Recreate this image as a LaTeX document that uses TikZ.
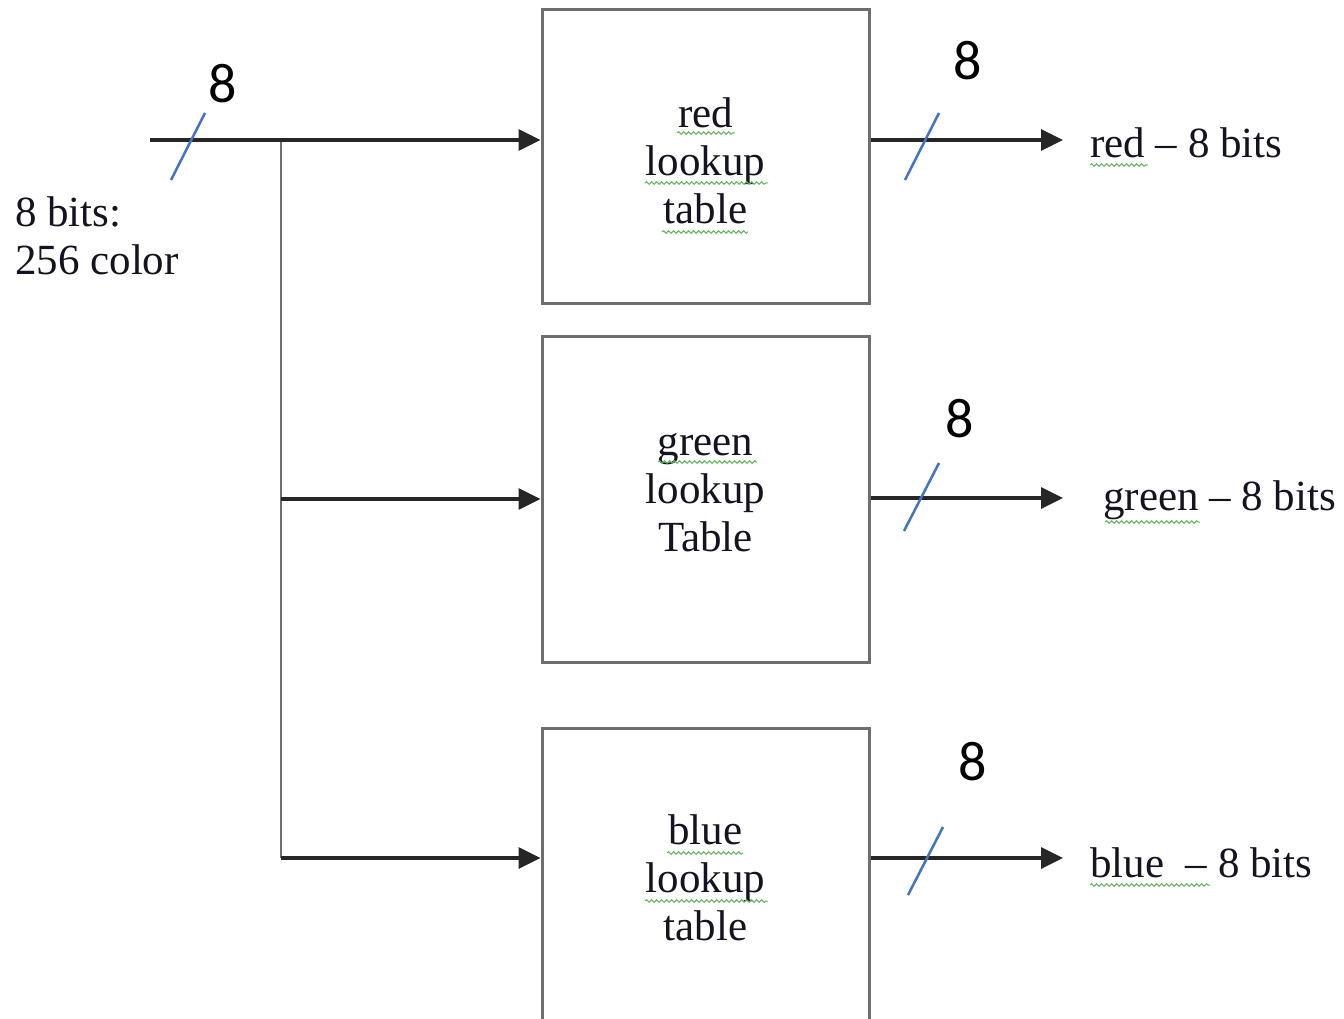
\documentclass[tikz,border=0pt]{standalone}
\usepackage{fontspec}
\setmainfont{Liberation Serif}
\newfontfamily\labelsans{Carlito}
\usetikzlibrary{arrows.meta,decorations.pathmorphing}

\definecolor{boxgray}{HTML}{6E6E6E}
\definecolor{wire}{HTML}{262626}
\definecolor{trunkgray}{HTML}{707070}
\definecolor{slashblue}{HTML}{4472C4}
\definecolor{spellgreen}{HTML}{5DB85A}
\definecolor{inktext}{HTML}{141420}

\begin{document}
\begin{tikzpicture}[x=1pt,y=-1pt,
  lut/.style={draw=boxgray, line width=3pt, minimum width=327pt, inner sep=0pt},
  boxtext/.style={font=\fontsize{43}{48}\selectfont, align=center, inner sep=0pt, text=inktext},
  sidetext/.style={font=\fontsize{43}{48}\selectfont, anchor=base west, inner sep=0pt, text=inktext},
  bus/.style={draw=wire, line width=3.5pt, -{Triangle[length=22pt,width=21pt]}},
  trunk/.style={draw=trunkgray, line width=2.5pt},
  buswidth/.style={font=\labelsans\fontsize{56}{60}\selectfont, anchor=base, inner sep=0pt},
  slash/.style={draw=slashblue, line width=2.5pt},
  squiggle/.style={draw=spellgreen, line width=1pt, decorate,
    decoration={snake, amplitude=1.3pt, segment length=5pt}}
]
% page frame
\clip (0,0) rectangle (1344,1019);
\fill[white] (0,0) rectangle (1344,1019);

% lookup tables
\node[lut, minimum height=293pt] (red)   at (705.5,156.5) {};
\node[lut, minimum height=326pt] (green) at (705.5,499) {};
\node[lut, minimum height=312pt] (blue)  at (705.5,884) {};

\node[boxtext] (redtxt)   at (705.5,161) {red\\lookup\\table};
\node[boxtext] (greentxt) at (705.5,493) {green\\lookup\\Table};
\node[boxtext] (bluetxt)  at (705.5,878) {blue\\lookup\\table};

% input bus and fan-out
\coordinate (in) at (150,140);
\coordinate (j)  at (281,140);
\coordinate (gj) at (281,499);
\coordinate (tb) at (281,858);

\draw[trunk] (j) -- (tb);
\draw[bus] (in) -- (in -| red.west);
\draw[bus] (gj) -- (gj -| green.west);
\draw[bus] (tb) -- (tb -| blue.west);

% outputs
\coordinate (rend) at (1063,140);
\coordinate (gend) at (1063,498);
\coordinate (bend) at (1063,858);
\draw[bus] (rend -| red.east) -- (rend);
\draw[bus] (gend -| green.east) -- (gend);
\draw[bus] (bend -| blue.east) -- (bend);

% bus width marks
\draw[slash] (205,113) -- (171,180);
\draw[slash] (939,113) -- (905,180);
\draw[slash] (939,463) -- (904,531);
\draw[slash] (943,827) -- (908,895);

\node[buswidth] (w0) at (223,103) {8};
\node[buswidth] (w1) at (968,80)  {8};
\node[buswidth] (w2) at (960,437) {8};
\node[buswidth] (w3) at (973,780) {8};

% labels
\node[sidetext, anchor=north west, align=left] (inlabel) at (15,196) {8 bits:\\256 color};
\node[sidetext] (redout)   at (1090,158) {red – 8 bits};
\node[sidetext] (greenout) at (1103,510) {green – 8 bits};
\node[sidetext] (blueout)  at (1090,877) {blue\ \ – 8 bits};

% spelling marks under words
\draw[squiggle] (677,133) -- (735,133);
\draw[squiggle] (645,183) -- (768,183);
\draw[squiggle] (662,232) -- (748,232);
\draw[squiggle] (658,462) -- (757,462);
\draw[squiggle] (667,853) -- (743,853);
\draw[squiggle] (645,901) -- (768,901);
\draw[squiggle] (1090,165) -- (1148,165);
\draw[squiggle] (1105,522) -- (1200,522);
\draw[squiggle] (1090,885) -- (1210,885);
\end{tikzpicture}
\end{document}
